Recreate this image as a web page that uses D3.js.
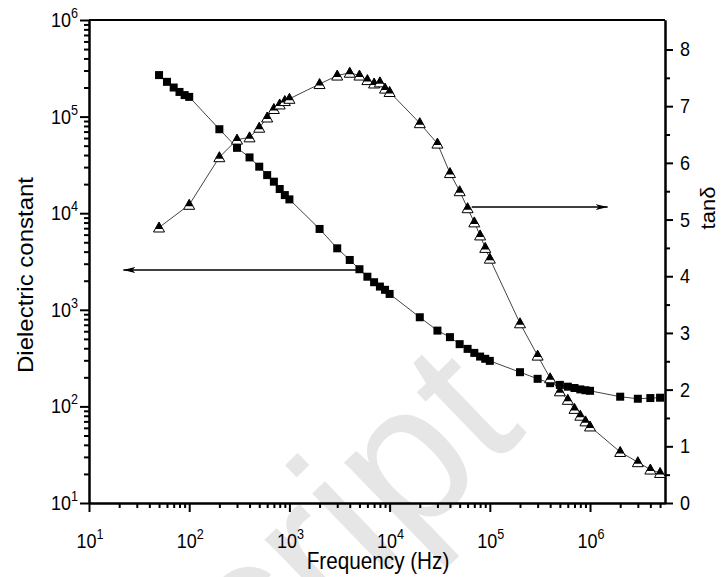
<!DOCTYPE html>
<html>
<head>
<meta charset="utf-8">
<script src="https://cdn.jsdelivr.net/npm/d3@7"></script>
<style>
    body { margin: 0; background: #fff; }
    svg { display: block; font-family: "Liberation Sans", Arial, sans-serif; }
</style>
</head>
<body>
<div id="chart"></div>
<script>
// ------------------------------------------------------------------
//  dielectric constant / tan delta vs frequency
// ------------------------------------------------------------------

// frequencies (Hz) of the dielectric constant points
const freqEps = [50, 60, 70, 80, 90, 100, 200, 300, 400, 500, 600, 700, 800, 900,
    1e3, 2e3, 3e3, 4e3, 5e3, 6e3, 7e3, 8e3, 9e3, 1e4, 2e4, 3e4, 4e4, 5e4, 6e4, 7e4, 8e4, 9e4,
    1e5, 2e5, 3e5, 4e5, 5e5, 6e5, 7e5, 8e5, 9e5, 1e6, 2e6, 3e6, 4e6, 5e6]
const epsValues = [2.69e5, 2.29e5, 2.0e5, 1.80e5, 1.67e5, 1.60e5, 7.4e4, 4.75e4, 3.78e4, 3.03e4,
    2.48e4, 2.12e4, 1.78e4, 1.54e4, 1.39e4, 6.87e3, 4.33e3, 3.28e3, 2.63e3, 2.20e3, 1.93e3,
    1.74e3, 1.61e3, 1.46e3, 837, 609, 521, 441, 394, 358, 328, 311, 296, 226, 193, 174, 167,
    160, 155, 150, 147, 145, 126, 120, 122, 123]

// frequencies (Hz) of the tan delta points
const freqTan = [50, 100, 200, 300, 400, 500, 600, 700, 800, 900,
    1e3, 2e3, 3e3, 4e3, 5e3, 6e3, 7e3, 8e3, 9e3, 1e4, 2e4, 3e4, 4e4, 5e4, 6e4, 7e4, 8e4, 9e4,
    1e5, 2e5, 3e5, 4e5, 5e5, 6e5, 7e5, 8e5, 9e5, 1e6, 2e6, 3e6, 4e6, 5e6]
const tanValues = [4.86, 5.26, 6.10, 6.41, 6.45, 6.62, 6.80, 6.95, 7.03, 7.09,
    7.13, 7.39, 7.54, 7.59, 7.54, 7.46, 7.40, 7.42, 7.31, 7.25, 6.70, 6.34, 5.82, 5.50, 5.20,
    4.95, 4.72, 4.50, 4.31, 3.17, 2.60, 2.20, 1.97, 1.82, 1.66, 1.54, 1.44, 1.35, 0.90, 0.72,
    0.59, 0.53]

// tick labels
const xExponents = [1, 2, 3, 4, 5, 6]
const yExponents = [1, 2, 3, 4, 5, 6]
const tanTicks = [0, 1, 2, 3, 4, 5, 6, 7, 8]

// arrows [freq from, freq to, value]
const arrowEps = [4.7e3, 22, 2.58e3]
const arrowTan = [6.6e4, 1.5e6, 5.22]

// ------------------------------------------------------------------
const W = 724, H = 577
const mLeft = 89, mRight = 665, mTop = 20, mBottom = 503
const squeeze = "scale(0.9,1)"

const svg = d3.select("#chart").append("svg")
    .attr("width", W)
    .attr("height", H)

const x = d3.scaleLog().domain([10, 5.6e6]).range([mLeft, mRight])
const yL = d3.scaleLog().domain([10, 1e6]).range([mBottom, mTop])
const yR = d3.scaleLinear().domain([0, 8.52]).range([mBottom, mTop])

// watermark
svg.append("text")
    .attr("transform", "translate(528,432) rotate(-44)")
    .attr("text-anchor", "end")
    .attr("font-size", 200)
    .attr("fill", "#e6e6e6")
    .text("Accepted Manuscript")

// minor tick values
const minorX = []
for (let e = 1; e <= 6; e++) for (let m = 2; m <= 9; m++) {
    const v = m * Math.pow(10, e)
    if (v <= 5.6e6) minorX.push(v)
}
const minorY = []
for (let e = 1; e <= 5; e++) for (let m = 2; m <= 9; m++) minorY.push(m * Math.pow(10, e))
const minorR = d3.range(0.5, 8.5, 1)

function styleAxis(g) {
    g.select(".domain").attr("stroke", "#000").attr("stroke-width", 2)
    g.selectAll(".tick line").attr("stroke", "#000").attr("stroke-width", 2)
}

// bottom axis
svg.append("g")
    .attr("transform", "translate(0," + mBottom + ")")
    .call(d3.axisBottom(x).tickValues(xExponents.map(e => Math.pow(10, e)))
        .tickSize(9).tickSizeOuter(0).tickFormat(""))
    .call(styleAxis)
svg.append("g")
    .attr("transform", "translate(0," + mBottom + ")")
    .call(d3.axisBottom(x).tickValues(minorX).tickSize(5).tickSizeOuter(0).tickFormat(""))
    .call(styleAxis)

// left axis
svg.append("g")
    .attr("transform", "translate(" + mLeft + ",0)")
    .call(d3.axisLeft(yL).tickValues(yExponents.map(e => Math.pow(10, e)))
        .tickSize(9).tickSizeOuter(0).tickFormat(""))
    .call(styleAxis)
svg.append("g")
    .attr("transform", "translate(" + mLeft + ",0)")
    .call(d3.axisLeft(yL).tickValues(minorY).tickSize(5).tickSizeOuter(0).tickFormat(""))
    .call(styleAxis)

// right axis
svg.append("g")
    .attr("transform", "translate(" + mRight + ",0)")
    .call(d3.axisRight(yR).tickValues(tanTicks).tickSize(8).tickSizeOuter(0).tickFormat(""))
    .call(styleAxis)
svg.append("g")
    .attr("transform", "translate(" + mRight + ",0)")
    .call(d3.axisRight(yR).tickValues(minorR).tickSize(5).tickSizeOuter(0).tickFormat(""))
    .call(styleAxis)

// top frame line
svg.append("line")
    .attr("x1", mLeft).attr("x2", mRight)
    .attr("y1", mTop).attr("y2", mTop)
    .attr("stroke", "#000").attr("stroke-width", 2)

// power-of-ten labels
function powLabel(px, py, e, anchor) {
    const t = svg.append("g")
        .attr("transform", "translate(" + px + "," + py + ") " + squeeze)
        .append("text")
        .attr("text-anchor", anchor)
        .attr("font-size", 20)
        .attr("fill", "#000")
    t.append("tspan").text("10")
    t.append("tspan").attr("font-size", 14).attr("dy", -9).text(e)
}
xExponents.forEach(e => powLabel(x(Math.pow(10, e)) + 1, 548, e, "middle"))
yExponents.forEach(e => powLabel(78, yL(Math.pow(10, e)) + 7, e, "end"))

tanTicks.forEach(v => {
    svg.append("g")
        .attr("transform", "translate(680," + (yR(v) + 7) + ") " + squeeze)
        .append("text")
        .attr("font-size", 20)
        .text(v)
})

// axis titles
svg.append("g")
    .attr("transform", "translate(378,569) " + squeeze)
    .append("text")
    .attr("text-anchor", "middle")
    .attr("font-size", 23)
    .text("Frequency (Hz)")

svg.append("g")
    .attr("transform", "translate(33,275) " + squeeze + " rotate(-90)")
    .append("text")
    .attr("text-anchor", "middle")
    .attr("font-size", 24)
    .text("Dielectric constant")

svg.append("g")
    .attr("transform", "translate(715,208) " + squeeze + " rotate(-90)")
    .append("text")
    .attr("text-anchor", "middle")
    .attr("font-size", 22)
    .text("tanδ")

// arrows
svg.append("defs").append("marker")
    .attr("id", "head")
    .attr("viewBox", "0 0 12 6")
    .attr("refX", 12).attr("refY", 3)
    .attr("markerWidth", 12).attr("markerHeight", 6)
    .attr("markerUnits", "userSpaceOnUse")
    .attr("orient", "auto")
    .append("path")
    .attr("d", "M0,0 L12,3 L0,6 L3,3 Z")
    .attr("fill", "#000")

svg.append("line")
    .attr("x1", x(arrowEps[0])).attr("x2", x(arrowEps[1]))
    .attr("y1", yL(arrowEps[2])).attr("y2", yL(arrowEps[2]))
    .attr("stroke", "#000").attr("stroke-width", 1.5)
    .attr("marker-end", "url(#head)")

svg.append("line")
    .attr("x1", x(arrowTan[0])).attr("x2", x(arrowTan[1]))
    .attr("y1", yR(arrowTan[2])).attr("y2", yR(arrowTan[2]))
    .attr("stroke", "#000").attr("stroke-width", 1.5)
    .attr("marker-end", "url(#head)")

// data
const epsData = freqEps.map((f, i) => ({ f: f, v: epsValues[i] }))
const tanData = freqTan.map((f, i) => ({ f: f, v: tanValues[i] }))

svg.append("path")
    .datum(epsData)
    .attr("fill", "none")
    .attr("stroke", "#444")
    .attr("stroke-width", 1)
    .attr("d", d3.line().x(d => x(d.f)).y(d => yL(d.v)))

svg.append("path")
    .datum(tanData)
    .attr("fill", "none")
    .attr("stroke", "#444")
    .attr("stroke-width", 1)
    .attr("d", d3.line().x(d => x(d.f)).y(d => yR(d.v)))

svg.selectAll(".sq")
    .data(epsData)
    .enter().append("rect")
    .attr("class", "sq")
    .attr("x", d => x(d.f) - 4)
    .attr("y", d => yL(d.v) - 4)
    .attr("width", 8)
    .attr("height", 8)
    .attr("fill", "#000")

const tri = svg.selectAll(".tri")
    .data(tanData)
    .enter().append("g")
    .attr("class", "tri")
    .attr("transform", d => "translate(" + x(d.f) + "," + yR(d.v) + ")")
tri.append("path")
    .attr("d", "M0,-5.5 L5.5,4.5 L-5.5,4.5 Z")
    .attr("fill", "#fff")
    .attr("stroke", "#000")
    .attr("stroke-width", 1)
tri.append("path")
    .attr("d", "M0,-5.5 L4,1.5 L-4,1.5 Z")
    .attr("fill", "#000")
</script>
</body>
</html>
